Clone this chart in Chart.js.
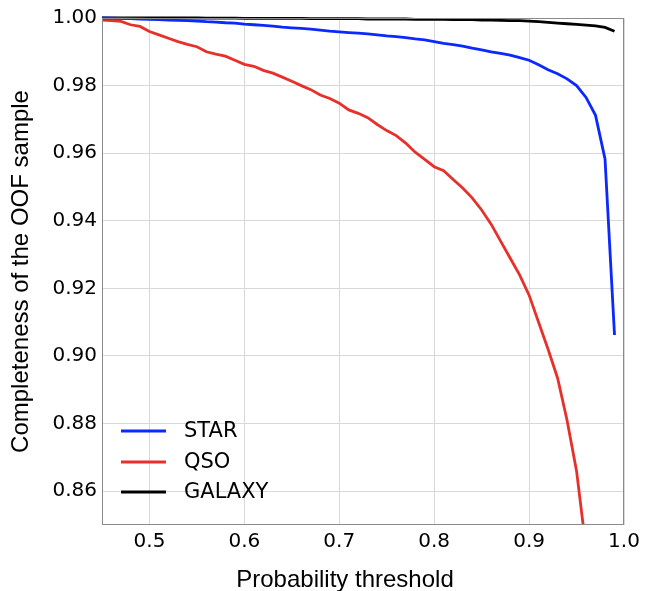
<!DOCTYPE html>
<html>
<head>
<meta charset="utf-8">
<script src="https://cdn.jsdelivr.net/npm/chart.js@4.4.1/dist/chart.umd.min.js"></script>
<style>
  html, body { margin: 0; padding: 0; background: #fff; }
  #wrap { width: 655px; height: 591px; }
</style>
</head>
<body>
<div id="wrap"><canvas id="chart" width="655" height="591"></canvas></div>
<script>
// probability thresholds (x)
const thresholds = [0.45, 0.46, 0.47, 0.48, 0.49, 0.50, 0.51, 0.52, 0.53, 0.54,
  0.55, 0.56, 0.57, 0.58, 0.59, 0.60, 0.61, 0.62, 0.63, 0.64,
  0.65, 0.66, 0.67, 0.68, 0.69, 0.70, 0.71, 0.72, 0.73, 0.74,
  0.75, 0.76, 0.77, 0.78, 0.79, 0.80, 0.81, 0.82, 0.83, 0.84,
  0.85, 0.86, 0.87, 0.88, 0.89, 0.90, 0.91, 0.92, 0.93, 0.94,
  0.95, 0.96, 0.97, 0.98, 0.99];

// completeness per class
const starValues = [1.0000, 0.99995, 0.9999, 0.9998, 0.9997, 0.9996, 0.9995, 0.9994, 0.9993, 0.9992,
  0.9991, 0.9989, 0.9988, 0.9986, 0.9985, 0.9982, 0.9980, 0.9978, 0.9976, 0.9973,
  0.9971, 0.9969, 0.9967, 0.9964, 0.9961, 0.9959, 0.9957, 0.9955, 0.9953, 0.9950,
  0.9947, 0.9945, 0.9942, 0.9938, 0.9935, 0.9930, 0.9925, 0.9921, 0.9917, 0.9911,
  0.9906, 0.9900, 0.9895, 0.9890, 0.9883, 0.9875, 0.9862, 0.9847, 0.9835, 0.9820,
  0.9800, 0.9765, 0.9712, 0.9583, 0.9062];

const qsoValues = [0.9994, 0.9992, 0.9990, 0.9980, 0.9975, 0.9960, 0.9950, 0.9940, 0.9930, 0.9922,
  0.9915, 0.9900, 0.9893, 0.9887, 0.9875, 0.9863, 0.9857, 0.9845, 0.9837, 0.9825,
  0.9813, 0.9800, 0.9788, 0.9772, 0.9762, 0.9748, 0.9728, 0.9718, 0.9705, 0.9685,
  0.9667, 0.9652, 0.9630, 0.9603, 0.9582, 0.9560, 0.9548, 0.9522, 0.9497, 0.9468,
  0.9432, 0.9390, 0.9340, 0.9290, 0.9240, 0.9180, 0.9100, 0.9020, 0.8935, 0.8810,
  0.8660, 0.8430];

const galaxyValues = [1.0000, 1.0000, 1.0000, 1.0000, 1.0000, 1.0000, 1.0000, 1.0000, 1.0000, 1.0000,
  1.0000, 0.99995, 0.99995, 0.99995, 0.99995, 0.9999, 0.9999, 0.9999, 0.9999, 0.9999,
  0.9999, 0.9999, 0.9998, 0.9998, 0.9998, 0.9998, 0.9998, 0.9998, 0.9997, 0.9997,
  0.9997, 0.9997, 0.9997, 0.9996, 0.9996, 0.9996, 0.9996, 0.9995, 0.9995, 0.9995,
  0.9994, 0.9994, 0.9993, 0.9992, 0.9992, 0.9991, 0.9989, 0.9987, 0.9985, 0.9983,
  0.9981, 0.9979, 0.9977, 0.9972, 0.9961];

const xTicks = [0.5, 0.6, 0.7, 0.8, 0.9, 1.0];
const xTickLabels = ['0.5', '0.6', '0.7', '0.8', '0.9', '1.0'];
const yTicks = [0.86, 0.88, 0.90, 0.92, 0.94, 0.96, 0.98, 1.00];
const yTickLabels = ['0.86', '0.88', '0.90', '0.92', '0.94', '0.96', '0.98', '1.00'];

const xTitle = 'Probability threshold';
const yTitle = 'Completeness of the OOF sample';

function toPoints(values) {
  // пары (порог, значение); ряды могут быть короче списка порогов
  return values.map((v, i) => ({ x: thresholds[i], y: v }));
}

// рамка вокруг области графика
const framePlugin = {
  id: 'frame',
  afterDatasetsDraw(chart) {
    const { ctx, chartArea: a } = chart;
    ctx.save();
    ctx.strokeStyle = '#8a8a8a';
    ctx.lineWidth = 1;
    ctx.strokeRect(a.left + 0.5, a.top + 0.5, a.right - a.left - 1, a.bottom - a.top - 1);
    ctx.restore();
  }
};

// подпись оси X (в оригинале немного смещена влево от центра)
const xTitlePlugin = {
  id: 'xTitle',
  afterDraw(chart) {
    const { ctx, chartArea: a } = chart;
    ctx.save();
    ctx.font = '24px "Liberation Sans"';
    ctx.fillStyle = '#000';
    ctx.textAlign = 'center';
    ctx.textBaseline = 'alphabetic';
    ctx.fillText(xTitle, (a.left + a.right) / 2 - 18, a.bottom + 62);
    ctx.restore();
  }
};

// легенда внутри области графика, внизу слева
const insideLegendPlugin = {
  id: 'insideLegend',
  afterDraw(chart) {
    const { ctx, chartArea: a } = chart;
    const offsets = [94, 63, 33];
    ctx.save();
    ctx.font = '21px "DejaVu Sans"';
    ctx.textBaseline = 'middle';
    chart.data.datasets.forEach((ds, i) => {
      const y = a.bottom - offsets[i];
      ctx.strokeStyle = ds.borderColor;
      ctx.lineWidth = ds.borderWidth;
      ctx.beginPath();
      ctx.moveTo(a.left + 19, y);
      ctx.lineTo(a.left + 64, y);
      ctx.stroke();
      ctx.fillStyle = '#000';
      ctx.fillText(ds.label, a.left + 82, y + 1);
    });
    ctx.restore();
  }
};

const ctx = document.getElementById('chart');
new Chart(ctx, {
  type: 'line',
  data: {
    datasets: [
      { label: 'STAR', data: toPoints(starValues), borderColor: '#0a28ff' },
      { label: 'QSO', data: toPoints(qsoValues), borderColor: '#e8302a' },
      { label: 'GALAXY', data: toPoints(galaxyValues), borderColor: '#000000' }
    ].map(ds => ({ ...ds, borderWidth: 2.8, pointRadius: 0, tension: 0, fill: false,
                   clip: { left: 0, right: 0, top: 3, bottom: 0 } }))
  },
  options: {
    responsive: false,
    animation: false,
    layout: { padding: { left: 0, right: 31, top: 18, bottom: 0 } },
    plugins: { legend: { display: false }, tooltip: { enabled: false } },
    scales: {
      x: {
        type: 'linear',
        min: 0.45,
        max: 1.0,
        afterBuildTicks: s => { s.ticks = xTicks.map(v => ({ value: v })); },
        afterFit: s => { s.height = 66; },
        grid: { color: '#d9d9d9', lineWidth: 1, drawTicks: false },
        border: { display: false },
        ticks: {
          padding: 5,
          color: '#000',
          font: { family: 'DejaVu Sans', size: 20 },
          callback: (v) => xTickLabels[xTicks.indexOf(v)] ?? ''
        },
        title: { display: false }
      },
      y: {
        type: 'linear',
        min: 0.85,
        max: 1.0,
        afterBuildTicks: s => { s.ticks = yTicks.map(v => ({ value: v })); },
        afterFit: s => { s.width = 102; },
        grid: { color: '#d9d9d9', lineWidth: 1, drawTicks: false },
        border: { display: false },
        ticks: {
          padding: 5,
          color: '#000',
          font: { family: 'DejaVu Sans', size: 20 },
          callback: (v) => {
            const i = yTicks.findIndex(t => Math.abs(t - v) < 1e-9);
            return i >= 0 ? yTickLabels[i] : '';
          }
        },
        title: {
          display: true,
          text: yTitle,
          color: '#000',
          font: { family: 'Liberation Sans', size: 24 },
          padding: { top: 7, bottom: 0 }
        }
      }
    }
  },
  plugins: [framePlugin, xTitlePlugin, insideLegendPlugin]
});
</script>
</body>
</html>
